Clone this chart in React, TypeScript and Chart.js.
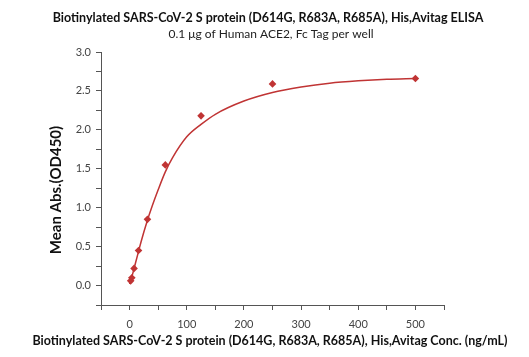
import React, { useEffect, useRef } from "react";
import { Chart, registerables } from "chart.js";
Chart.register(...registerables);

const TITLE = "Biotinylated SARS-CoV-2 S protein (D614G, R683A, R685A), His,Avitag ELISA";
const SUBTITLE = "0.1 μg of Human ACE2, Fc Tag per well";
const X_TITLE = "Biotinylated SARS-CoV-2 S protein (D614G, R683A, R685A), His,Avitag Conc. (ng/mL)";
const Y_TITLE = "Mean Abs.(OD450)";

const concentrations = [500, 250, 125, 62.5, 31.25, 15.63, 7.81, 3.91, 1.95];
const absorbance = [2.66, 2.59, 2.18, 1.55, 0.85, 0.45, 0.22, 0.1, 0.06];

const curveX = [0, 2, 5, 10, 15, 20, 30, 40, 50, 62.5, 75, 100, 125, 150, 200, 250, 300, 350, 400, 450, 500];
const curveY = [0.02, 0.07, 0.14, 0.28, 0.42, 0.56, 0.81, 1.03, 1.23, 1.46, 1.64, 1.91, 2.07, 2.2, 2.37, 2.48, 2.55, 2.6, 2.63, 2.65, 2.66];

const xTicksLabeled = [0, 100, 200, 300, 400, 500];
const yTicksLabeled = [0, 0.5, 1, 1.5, 2, 2.5, 3];

const RED = "rgb(192,52,52)";
const AXIS = "#555";

export default function App() {
  const ref = useRef<HTMLCanvasElement>(null);
  useEffect(() => {
    const canvas = ref.current!;
    const textPlugin = {
      id: "texts",
      afterDraw(chart: any) {
        const ctx = chart.ctx;
        ctx.save();
        ctx.fillStyle = "#111";
        ctx.textAlign = "center";
        ctx.textBaseline = "middle";
        ctx.font = "bold 12.5px Lato";
        ctx.fillText(TITLE, 268, 18);
        ctx.font = "12px Lato";
        ctx.fillStyle = "#222";
        ctx.fillText(SUBTITLE, 271, 34);
        ctx.fillStyle = "#111";
        ctx.font = "bold 12.5px Lato";
        ctx.fillText(X_TITLE, 270, 341);
        ctx.translate(56, 190);
        ctx.rotate(-Math.PI / 2);
        ctx.font = "bold 15px Lato";
        ctx.fillText(Y_TITLE, 0, 0);
        ctx.restore();
      },
    };
    const chart = new Chart(canvas, {
      type: "scatter",
      data: {
        datasets: [
          {
            data: curveX.map((x, i) => ({ x, y: curveY[i] })),
            showLine: true,
            borderColor: RED,
            borderWidth: 1.5,
            pointRadius: 0,
            cubicInterpolationMode: "monotone",
            fill: false,
          } as any,
          {
            data: concentrations.map((x, i) => ({ x, y: absorbance[i] })),
            showLine: false,
            pointStyle: "rectRot",
            pointRadius: 3.8,
            backgroundColor: RED,
            borderColor: RED,
            borderWidth: 0,
          },
        ],
      },
      options: {
        animation: false,
        responsive: false,
        events: [],
        layout: { padding: { left: 0, right: 85, top: 52, bottom: 0 } },
        plugins: { legend: { display: false }, tooltip: { enabled: false }, title: { display: false } },
        scales: {
          x: {
            type: "linear",
            min: -50,
            max: 550,
            border: { display: true, color: AXIS, width: 1 },
            grid: { display: true, drawOnChartArea: false, drawTicks: true, tickLength: 5, color: AXIS },
            ticks: {
              stepSize: 50,
              autoSkip: false,
              maxRotation: 0,
              padding: 8,
              color: "#444",
              font: { family: "Lato", size: 11 },
              callback: (v: any) => (xTicksLabeled.includes(Number(v)) ? String(v) : ""),
            },
            afterFit: (s: any) => {
              s.height = 52;
            },
          },
          y: {
            type: "linear",
            min: -0.25,
            max: 3.0,
            border: { display: true, color: AXIS, width: 1 },
            grid: { display: true, drawOnChartArea: false, drawTicks: true, tickLength: 5, color: AXIS },
            ticks: {
              stepSize: 0.25,
              autoSkip: false,
              padding: 5,
              color: "#444",
              font: { family: "Lato", size: 11 },
              callback: (v: any) =>
                yTicksLabeled.some((t) => Math.abs(t - Number(v)) < 1e-6) ? Number(v).toFixed(1) : "",
            },
            afterFit: (s: any) => {
              s.width = 101;
            },
          },
        },
      },
      plugins: [textPlugin],
    });
    return () => chart.destroy();
  }, []);
  return (
    <div style={{ position: "fixed", left: 0, top: 0, width: 529, height: 357, background: "#fff" }}>
      <canvas ref={ref} width={529} height={357} style={{ width: 529, height: 357 }} />
    </div>
  );
}
